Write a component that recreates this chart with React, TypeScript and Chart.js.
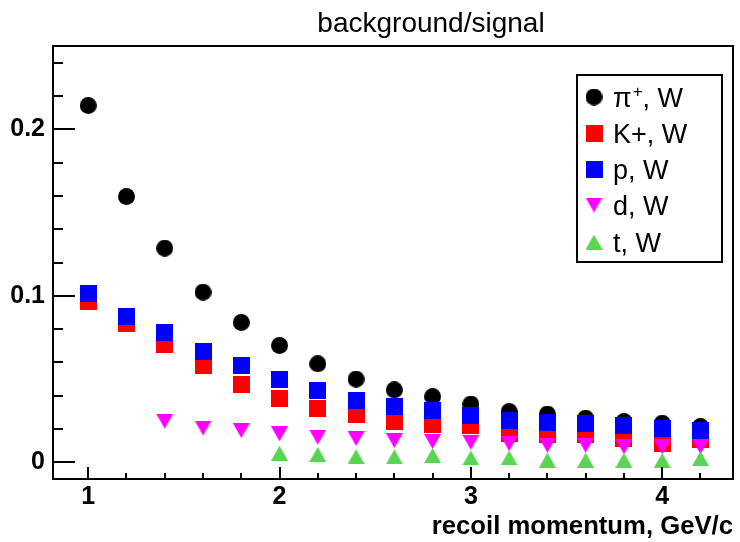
import React, { useEffect, useRef } from 'react';
import { Chart, registerables } from 'chart.js';

Chart.register(...registerables);

// ---- data ----
const momentum = [1.0, 1.2, 1.4, 1.6, 1.8, 2.0, 2.2, 2.4, 2.6, 2.8, 3.0, 3.2, 3.4, 3.6, 3.8, 4.0, 4.2];
const piW = [0.2143, 0.1596, 0.1286, 0.1022, 0.084, 0.0702, 0.0592, 0.05, 0.0435, 0.0395, 0.035, 0.0305, 0.029, 0.0265, 0.0245, 0.0235, 0.0215];
const kW = [0.0966, 0.0832, 0.071, 0.058, 0.0465, 0.0381, 0.0325, 0.0285, 0.0245, 0.0225, 0.0219, 0.0175, 0.0165, 0.0165, 0.0141, 0.0115, 0.0135];
const pW = [0.1012, 0.0874, 0.078, 0.0666, 0.0582, 0.0495, 0.0429, 0.0371, 0.0335, 0.0309, 0.0281, 0.0251, 0.0241, 0.0231, 0.0221, 0.0201, 0.0191];
const dW = [null, null, 0.0247, 0.0206, 0.0191, 0.0171, 0.0151, 0.0143, 0.0131, 0.0125, 0.012, 0.0112, 0.0103, 0.0103, 0.0093, 0.0093, 0.0094];
const tW = [null, null, null, null, null, 0.0055, 0.0048, 0.0035, 0.0033, 0.0041, 0.0027, 0.0027, 0.0013, 0.0013, 0.0013, 0.0012, 0.0023];

const seriesNames = ['π', 'K+, W', 'p, W', 'd, W', 't, W'];
const xTickValues = [1, 2, 3, 4];
const xTickLabels = ['1', '2', '3', '4'];
const yTickValues = [0, 0.1, 0.2];
const yTickLabels = ['0', '0.1', '0.2'];
const chartTitle = 'background/signal';
const xAxisTitle = 'recoil momentum, GeV/c';

const FONT = '"Liberation Sans", Arial, Helvetica, sans-serif';
const GREEN = 'rgb(89, 212, 84)';

type Kind = 'circle' | 'square' | 'triDown' | 'triUp';

function makeMarker(kind: Kind, color: string): HTMLCanvasElement {
  const c = document.createElement('canvas');
  const W = 17;
  const H = kind === 'triDown' || kind === 'triUp' ? 15 : 17;
  c.width = W;
  c.height = H;
  const g = c.getContext('2d')!;
  g.fillStyle = color;
  g.beginPath();
  if (kind === 'circle') {
    g.arc(W / 2, H / 2, W / 2, 0, Math.PI * 2);
  } else if (kind === 'square') {
    g.rect(0, 0, W, H);
  } else if (kind === 'triDown') {
    g.moveTo(0, 0);
    g.lineTo(W, 0);
    g.lineTo(W / 2, H);
    g.closePath();
  } else {
    g.moveTo(W / 2, 0);
    g.lineTo(W, H);
    g.lineTo(0, H);
    g.closePath();
  }
  g.fill();
  return c;
}

function toPoints(values: (number | null)[]) {
  return momentum
    .map((x, i) => ({ x, y: values[i] }))
    .filter((p) => p.y !== null) as { x: number; y: number }[];
}

export default function App() {
  const ref = useRef<HTMLCanvasElement | null>(null);

  useEffect(() => {
    if (!ref.current) return;
    const markers = [
      makeMarker('circle', '#000000'),
      makeMarker('square', '#ff0000'),
      makeMarker('square', '#0000ff'),
      makeMarker('triDown', '#ff00ff'),
      makeMarker('triUp', GREEN),
    ];
    const series = [piW, kW, pW, dW, tW];

    const overlay = {
      id: 'rootStyle',
      afterDraw(chart: any) {
        const ctx = chart.ctx as CanvasRenderingContext2D;
        const { left, right, top, bottom } = chart.chartArea;
        const xs = chart.scales.x;
        const ys = chart.scales.y;
        ctx.save();
        ctx.strokeStyle = '#000';
        ctx.lineWidth = 2;
        // frame
        ctx.strokeRect(left, top, right - left, bottom - top);
        // y ticks
        ctx.beginPath();
        for (let k = 0; k <= 12; k++) {
          const v = k * 0.02;
          const y = Math.round(ys.getPixelForValue(v));
          const major = k % 5 === 0;
          ctx.moveTo(left, y);
          ctx.lineTo(left + (major ? 22 : 10), y);
        }
        // x ticks
        for (let k = 5; k <= 21; k++) {
          const v = k * 0.2;
          const x = Math.round(xs.getPixelForValue(v));
          const major = k % 5 === 0;
          ctx.moveTo(x, bottom);
          ctx.lineTo(x, bottom - (major ? 12 : 6));
        }
        ctx.stroke();

        // title
        ctx.fillStyle = '#000';
        ctx.font = `28px ${FONT}`;
        ctx.textAlign = 'center';
        ctx.textBaseline = 'alphabetic';
        ctx.fillText(chartTitle, 431, 32);

        // legend
        const bx = 577, by = 75, bw = 145, bh = 187;
        ctx.fillStyle = '#fff';
        ctx.fillRect(bx, by, bw, bh);
        ctx.lineWidth = 2;
        ctx.strokeStyle = '#000';
        ctx.strokeRect(bx, by, bw, bh);
        const rowY = [97, 133, 169, 205, 242];
        ctx.textAlign = 'left';
        ctx.textBaseline = 'alphabetic';
        ctx.fillStyle = '#000';
        seriesNames.forEach((name, i) => {
          const m = markers[i];
          ctx.drawImage(m, 594 - m.width / 2, rowY[i] - m.height / 2);
          ctx.font = `27px ${FONT}`;
          const base = rowY[i] + 10;
          if (i === 0) {
            ctx.fillText(name, 613, base);
            const w = ctx.measureText(name).width;
            ctx.font = `17px ${FONT}`;
            ctx.fillText('+', 613 + w + 1, base - 10);
            const w2 = ctx.measureText('+').width;
            ctx.font = `27px ${FONT}`;
            ctx.fillText(', W', 613 + w + w2 + 1, base);
          } else {
            ctx.fillText(name, 613, base);
          }
        });
        ctx.restore();
      },
    };

    const tickFont = { family: FONT, size: 25, weight: 'bold' as const };

    const chart = new Chart(ref.current, {
      type: 'scatter',
      data: {
        datasets: series.map((vals, i) => ({
          label: i === 0 ? 'π+, W' : seriesNames[i],
          data: toPoints(vals),
          pointStyle: markers[i] as any,
          pointRadius: 9,
          showLine: false,
          order: 5 - i,
        })),
      },
      options: {
        animation: false,
        responsive: false,
        devicePixelRatio: 1,
        layout: { padding: { top: 46, right: 7, left: 0, bottom: 0 }, autoPadding: false },
        plugins: {
          legend: { display: false },
          title: { display: false },
          tooltip: { enabled: false },
        },
        scales: {
          x: {
            type: 'linear',
            min: 0.816,
            max: 4.37,
            afterFit: (s: any) => { s.height = 63; },
            afterBuildTicks: (s: any) => { s.ticks = xTickValues.map((v) => ({ value: v })); },
            ticks: {
              callback: (_v: any, i: number) => xTickLabels[i],
              font: tickFont,
              color: '#000',
              padding: 3,
              maxRotation: 0,
              autoSkip: false,
            },
            grid: { display: false, drawTicks: false },
            border: { display: false },
            title: {
              display: true,
              text: xAxisTitle,
              align: 'end',
              color: '#000',
              font: { family: FONT, size: 25.7, weight: 'bold' },
              padding: { top: 0, bottom: 0 },
            },
          },
          y: {
            type: 'linear',
            min: -0.01,
            max: 0.25,
            afterFit: (s: any) => { s.width = 53; },
            afterBuildTicks: (s: any) => { s.ticks = yTickValues.map((v) => ({ value: v })); },
            ticks: {
              callback: (_v: any, i: number) => yTickLabels[i],
              font: tickFont,
              color: '#000',
              padding: 8,
              autoSkip: false,
            },
            grid: { display: false, drawTicks: false },
            border: { display: false },
          },
        },
      },
      plugins: [overlay],
    });

    return () => chart.destroy();
  }, []);

  return (
    <div style={{ position: 'absolute', left: 0, top: 0, width: 740, height: 542, background: '#fff' }}>
      <canvas ref={ref} width={740} height={542} style={{ display: 'block' }} />
    </div>
  );
}
